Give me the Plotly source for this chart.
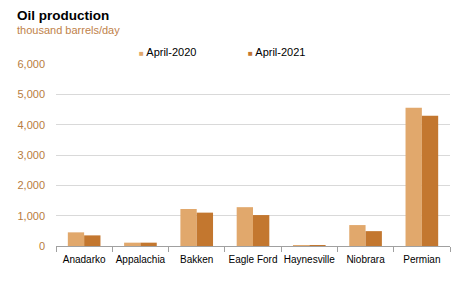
import plotly.graph_objects as go

categories = ["Anadarko", "Appalachia", "Bakken", "Eagle Ford", "Haynesville", "Niobrara", "Permian"]
apr2020 = [450, 110, 1220, 1280, 30, 690, 4560]
apr2021 = [350, 110, 1100, 1020, 30, 490, 4290]
tick_vals = [0, 1000, 2000, 3000, 4000, 5000, 6000]
tick_text = ["0", "1,000", "2,000", "3,000", "4,000", "5,000", "6,000"]
series_names = ["April-2020", "April-2021"]
colors = ["#E1A86C", "#C3772F"]
legend_x = [0.205, 0.483]

FONT = "Liberation Sans, Arial, sans-serif"
fig = go.Figure()
for name, vals, col in zip(series_names, [apr2020, apr2021], colors):
    fig.add_trace(go.Bar(x=categories, y=vals, name=name, showlegend=False,
                         marker=dict(color=col, line=dict(width=0))))

annotations = [
    dict(text="<b>Oil production</b>", x=0, y=1, xref="paper", yref="paper", xanchor="left", yanchor="top",
         showarrow=False, font=dict(size=13.5, color="black", family=FONT), xshift=-41, yshift=58),
    dict(text="thousand barrels/day", x=0, y=1, xref="paper", yref="paper", xanchor="left", yanchor="top",
         showarrow=False, font=dict(size=11, color="#C0824A", family=FONT), xshift=-41, yshift=42),
]
for name, col, lx in zip(series_names, colors, legend_x):
    annotations.append(dict(text=f"<span style='color:{col};font-size:8px'>■</span> {name}", x=lx, y=1,
                            xref="paper", yref="paper", xanchor="left", yanchor="middle",
                            showarrow=False, font=dict(size=11, color="black", family=FONT), yshift=12))

fig.update_layout(
    width=467, height=282,
    margin=dict(l=56, r=17, t=64, b=36),
    paper_bgcolor="white", plot_bgcolor="white",
    barmode="group", bargap=0.42, bargroupgap=0,
    font=dict(family=FONT, size=11, color="black"),
    showlegend=False,
    annotations=annotations,
)
fig.update_xaxes(type="category", showgrid=False, showline=True, linecolor="#A0A0A0", linewidth=1,
                 ticks="outside", tickson="boundaries", ticklen=5, tickcolor="#A0A0A0",
                 tickangle=0, automargin=False, ticklabelstandoff=4,
                 tickfont=dict(size=10, color="black"))
fig.update_yaxes(range=[0, 6000], tickvals=tick_vals, ticktext=tick_text, showgrid=True,
                 gridcolor="#D9D9D9", gridwidth=1, zeroline=False, showline=False, automargin=False,
                 tickfont=dict(size=11, color="#B87C40"), ticks="", ticklabelstandoff=10)
fig.write_html("out.html")
